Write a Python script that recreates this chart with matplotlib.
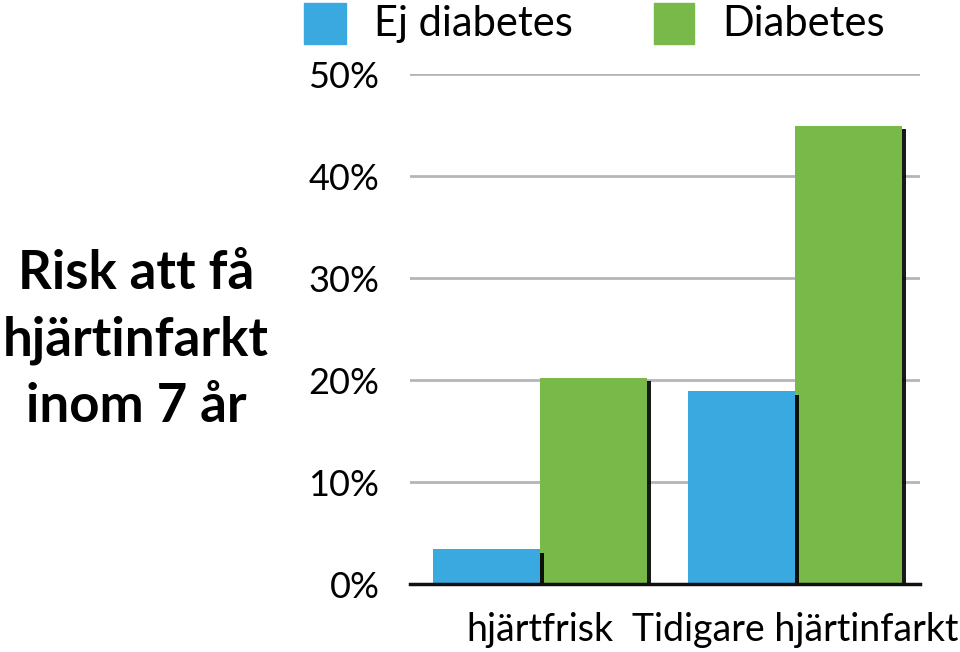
import matplotlib
matplotlib.use("Agg")
import matplotlib.pyplot as plt
import matplotlib.patheffects as pe
from matplotlib.patches import Rectangle
import numpy as np

### Data
categories = ["hjärtfrisk", "Tidigare hjärtinfarkt"]
series_names = ["Ej diabetes", "Diabetes"]
ej_diabetes = [3.4, 18.9]
diabetes = [20.2, 44.9]
yticks = [0, 10, 20, 30, 40, 50]
ytick_labels = ["0%", "10%", "20%", "30%", "40%", "50%"]

blue = "#3aa9e0"
green = "#79b94a"

plt.rcParams["font.family"] = ["Lato", "DejaVu Sans"]

fig = plt.figure(figsize=(9.6, 6.52), dpi=100)
ax = fig.add_axes([410 / 960, 1 - 584 / 652, 510 / 960, 510 / 652])

x = np.arange(len(categories))
w = 0.42
shadow = [pe.SimplePatchShadow(offset=(2.6, -2.4), shadow_rgbFace="black", alpha=0.9), pe.Normal()]

# green first so the blue shadow lands on top of it
ax.bar(x + w / 2, diabetes, w, color=green, zorder=3, path_effects=shadow)
ax.bar(x - w / 2, ej_diabetes, w, color=blue, zorder=3, path_effects=shadow)

ax.set_xlim(-0.51, 1.49)
ax.set_ylim(0, 50)
ax.set_yticks(yticks)
ax.set_yticklabels(ytick_labels, fontsize=26)
ax.set_xticks(x)
ax.set_xticklabels(categories, fontsize=27)
ax.tick_params(length=0)
ax.tick_params(axis="y", pad=22)
ax.tick_params(axis="x", pad=20)
ax.yaxis.grid(True, color="#b5b5b5", linewidth=2, zorder=0)
ax.set_axisbelow(True)
for s in ["left", "right", "top"]:
    ax.spines[s].set_visible(False)
ax.spines["bottom"].set_color("#111111")
ax.spines["bottom"].set_linewidth(2.5)
ax.spines["bottom"].set_zorder(4)

# legend drawn by hand at the top
fig.patches.append(Rectangle((304 / 960, 1 - 44 / 652), 42 / 960, 41 / 652, color=blue, transform=fig.transFigure))
fig.patches.append(Rectangle((654 / 960, 1 - 44 / 652), 40 / 960, 41 / 652, color=green, transform=fig.transFigure))
fig.text(374 / 960, 1 - 24 / 652, series_names[0], fontsize=30, va="center", ha="left")
fig.text(722 / 960, 1 - 24 / 652, series_names[1], fontsize=30, va="center", ha="left")

fig.text(136 / 960, 1 - 340 / 652, "Risk att få\nhjärtinfarkt\ninom 7 år", fontsize=38,
         fontweight="bold", ha="center", va="center", linespacing=1.42)

fig.savefig("out.png", dpi=100)
